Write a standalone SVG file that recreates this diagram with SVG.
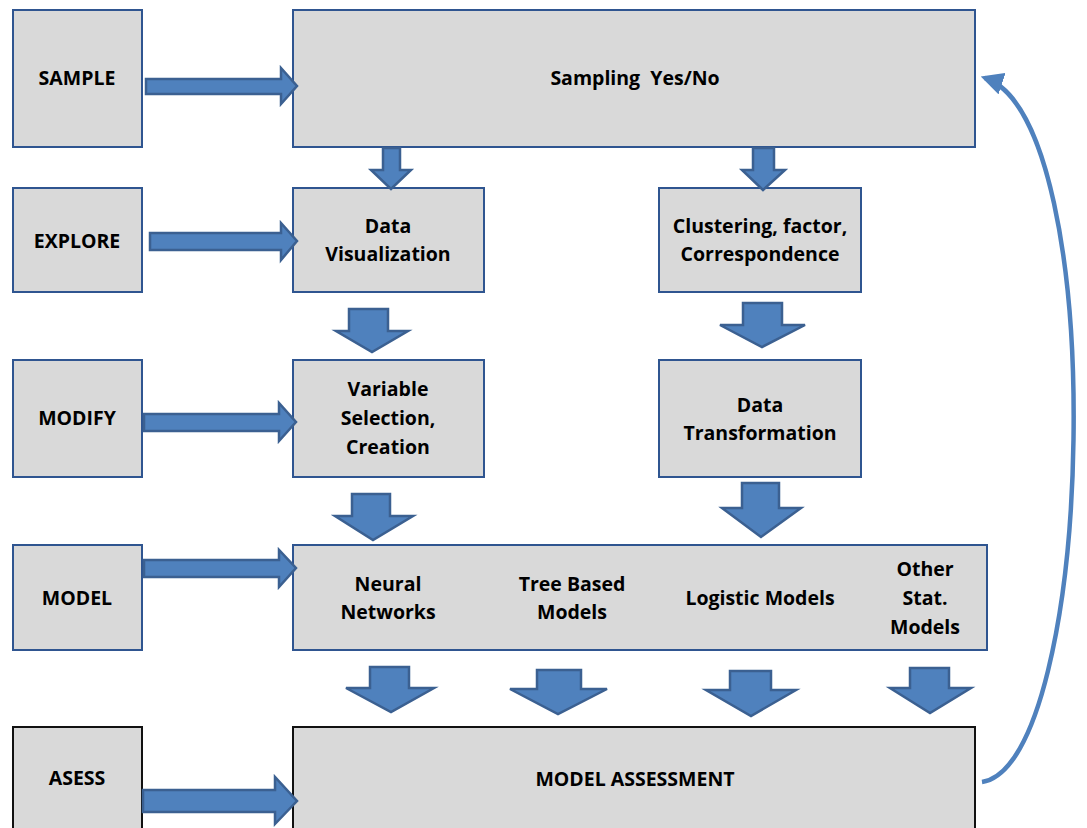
<svg xmlns="http://www.w3.org/2000/svg" width="1087" height="828" viewBox="0 0 1087 828">
<style>
.box{fill:#d9d9d9;stroke:#2f5590;stroke-width:2}
.boxk{fill:#d9d9d9;stroke:#111;stroke-width:2}
.arr{fill:#4f81bd;stroke:#3b6091;stroke-width:2.5;stroke-linejoin:miter}
.t{font-family:"Open Sans","Liberation Sans",sans-serif;font-weight:bold;font-size:19.5px;fill:#000;text-anchor:middle}
.curve{fill:none;stroke:#4f81bd;stroke-width:4.5}
</style>
<defs>
<marker id="ah" viewBox="0 0 10 10" refX="8" refY="5" markerWidth="5" markerHeight="5" orient="auto" markerUnits="strokeWidth">
<path d="M0,0 L10,5 L0,10 Z" fill="#4f81bd"/>
</marker>
</defs>
<rect width="1087" height="828" fill="#fff"/>
<g id="sample"><rect class="box" x="13" y="10" width="129" height="137"/><text class="t" x="77" y="85">SAMPLE</text></g>
<g id="explore"><rect class="box" x="13" y="188" width="129" height="104"/><text class="t" x="77" y="248">EXPLORE</text></g>
<g id="modify"><rect class="box" x="13" y="360" width="129" height="117"/><text class="t" x="77" y="425">MODIFY</text></g>
<g id="model"><rect class="box" x="13" y="545" width="129" height="105"/><text class="t" x="77" y="605">MODEL</text></g>
<g id="asess"><rect class="boxk" x="13" y="727" width="129" height="110"/><text class="t" x="77" y="785">ASESS</text></g>
<g id="sampling"><rect class="box" x="293" y="10" width="682" height="137"/><text class="t" x="635" y="85" xml:space="preserve">Sampling  Yes/No</text></g>
<g id="dataviz"><rect class="box" x="293" y="188" width="191" height="104"/><text class="t" x="388" y="233">Data</text><text class="t" x="388" y="261">Visualization</text></g>
<g id="clustering"><rect class="box" x="659" y="188" width="202" height="104"/><text class="t" x="760" y="233">Clustering, factor,</text><text class="t" x="760" y="261">Correspondence</text></g>
<g id="varsel"><rect class="box" x="293" y="360" width="191" height="117"/><text class="t" x="388" y="396">Variable</text><text class="t" x="388" y="425">Selection,</text><text class="t" x="388" y="454">Creation</text></g>
<g id="datatrans"><rect class="box" x="659" y="360" width="202" height="117"/><text class="t" x="760" y="412">Data</text><text class="t" x="760" y="440">Transformation</text></g>
<g id="models"><rect class="box" x="293" y="545" width="694" height="105"/>
<text class="t" x="388" y="591">Neural</text><text class="t" x="388" y="619">Networks</text>
<text class="t" x="572" y="591">Tree Based</text><text class="t" x="572" y="619">Models</text>
<text class="t" x="760" y="605">Logistic Models</text>
<text class="t" x="925" y="576">Other</text><text class="t" x="925" y="605">Stat.</text><text class="t" x="925" y="634">Models</text>
</g>
<g id="assessment"><rect class="boxk" x="293" y="727" width="682" height="110"/><text class="t" x="635" y="786">MODEL ASSESSMENT</text></g>
<g id="connectors">
<polygon class="arr" points="146,79 281,79 281,68 297,86 281,104 281,94 146,94"/>
<polygon class="arr" points="150,233 281,233 281,223 297,241 281,260 281,250 150,250"/>
<polygon class="arr" points="144,414 279,414 279,403 296,422 279,441 279,431 144,431"/>
<polygon class="arr" points="144,560 279,560 279,550 296,568 279,587 279,577 144,577"/>
<polygon class="arr" points="143,790 275,790 275,777 297,801 275,824 275,812 143,812"/>
<polygon class="arr" points="383,148 400,148 400,170 411,170 391,189 371,170 383,170"/>
<polygon class="arr" points="753,148 774,148 774,170 785,170 763,190 742,170 753,170"/>
<polygon class="arr" points="349,309 388,309 388,331 408,331 372,352 336,331 349,331"/>
<polygon class="arr" points="352,494 390,494 390,516 413,516 373,540 335,516 352,516"/>
<polygon class="arr" points="743,303 782,303 782,325 805,325 762,347 720,325 743,325"/>
<polygon class="arr" points="742,483 779,483 779,508 801,508 761,537 722,508 742,508"/>
<polygon class="arr" points="370,667 409,667 409,688 434,688 391,712 346,688 370,688"/>
<polygon class="arr" points="537,670 581,670 581,689 607,689 558,714 510,689 537,689"/>
<polygon class="arr" points="730,671 771,671 771,690 796,690 751,716 706,690 730,690"/>
<polygon class="arr" points="910,668 949,668 949,688 971,688 930,713 890,688 910,688"/>
<path class="curve" d="M982,782 C1095,765 1112,120 985,78" marker-end="url(#ah)"/>
</g>
</svg>
